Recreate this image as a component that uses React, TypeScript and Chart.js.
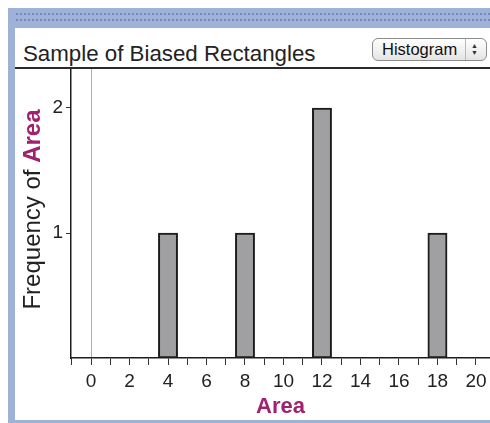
import React, { useEffect, useRef } from "react";
import { Chart, registerables } from "chart.js";

Chart.register(...registerables);

// ---- data ----
const areaValues = [4, 8, 12, 18];
const frequencies = [1, 1, 2, 1];
const yTickValues = [1, 2];
const xMin = -1.04;
const xMax = 20.73;
const yMax = 2.312;
const chartTitle = "Sample of Biased Rectangles";
const modeLabel = "Histogram";
const xTitle = "Area";
const yTitlePrefix = "Frequency of ";
const yTitleVar = "Area";

const FONT = '"Liberation Sans", Arial, sans-serif';
const MAGENTA = "#a0216e";
const TEXT = "#222222";

const yTitlePlugin = {
  id: "yTitleMixed",
  afterDraw(chart: any) {
    const { ctx, chartArea } = chart;
    ctx.save();
    const cx = 18;
    const cy = (chartArea.top + chartArea.bottom) / 2 - 4;
    ctx.translate(cx, cy);
    ctx.rotate(-Math.PI / 2);
    ctx.textBaseline = "middle";
    ctx.textAlign = "left";
    const f1 = `24px ${FONT}`;
    const f2 = `bold 24px ${FONT}`;
    ctx.font = f1;
    const w1 = ctx.measureText(yTitlePrefix).width;
    ctx.font = f2;
    const w2 = ctx.measureText(yTitleVar).width;
    let x = -(w1 + w2) / 2;
    ctx.font = f1;
    ctx.fillStyle = TEXT;
    ctx.fillText(yTitlePrefix, x, 0);
    x += w1;
    ctx.font = f2;
    ctx.fillStyle = MAGENTA;
    ctx.fillText(yTitleVar, x, 0);
    ctx.restore();
  },
};

export default function App() {
  const canvasRef = useRef<HTMLCanvasElement | null>(null);

  useEffect(() => {
    if (!canvasRef.current) return;
    const chart = new Chart(canvasRef.current, {
      type: "bar",
      data: {
        datasets: [
          {
            data: areaValues.map((a, i) => ({ x: a, y: frequencies[i] })),
            backgroundColor: "#a0a0a2",
            borderColor: "#1c1c1c",
            borderWidth: 2,
            borderSkipped: false,
            barPercentage: 1,
            categoryPercentage: 1,
          },
        ],
      },
      options: {
        animation: false,
        responsive: true,
        maintainAspectRatio: false,
        layout: { padding: 0 },
        plugins: {
          legend: { display: false },
          tooltip: { enabled: false },
          title: { display: false },
        },
        scales: {
          x: {
            type: "linear",
            min: xMin,
            max: xMax,
            offset: false,
            grid: {
              offset: false,
              drawOnChartArea: true,
              color: (c: any) =>
                c.tick && c.tick.value === 0 ? "#b0b0b0" : "rgba(0,0,0,0)",
              tickColor: "#333333",
              tickLength: 7,
              lineWidth: 1,
            },
            border: { display: true, color: "#1c1c1c", width: 1.5 },
            ticks: {
              stepSize: 1,
              includeBounds: false,
              autoSkip: false,
              maxRotation: 0,
              minRotation: 0,
              padding: 5,
              color: TEXT,
              font: { family: FONT, size: 19 },
              callback: (v: any) => (Number(v) >= 0 && Number(v) % 2 === 0 ? String(v) : ""),
            },
            title: {
              display: true,
              text: xTitle,
              color: MAGENTA,
              font: { family: FONT, size: 22, weight: "bold" },
              padding: { top: 0, bottom: 0 },
            },
            afterFit: (scale: any) => {
              scale.height = 62;
              scale.paddingLeft = 0;
              scale.paddingRight = 0;
            },
          },
          y: {
            type: "linear",
            min: 0,
            max: yMax,
            grid: {
              drawOnChartArea: false,
              color: "rgba(0,0,0,0)",
              tickColor: "#333333",
              tickLength: 5,
            },
            border: { display: true, color: "#1c1c1c", width: 1.5 },
            afterBuildTicks: (scale: any) => {
              scale.ticks = yTickValues.map((v) => ({ value: v }));
            },
            ticks: {
              padding: 3,
              color: TEXT,
              font: { family: FONT, size: 19 },
              callback: (v: any) => String(v),
            },
            afterFit: (scale: any) => {
              scale.width = 56;
              scale.paddingTop = 0;
              scale.paddingBottom = 0;
            },
          },
        },
      },
      plugins: [yTitlePlugin],
    } as any);
    return () => chart.destroy();
  }, []);

  return (
    <div
      style={{
        position: "fixed",
        left: 0,
        top: 0,
        width: 490,
        height: 423,
        overflow: "hidden",
        background: "#ffffff",
        fontFamily: FONT,
      }}
    >
      <div style={{ position: "absolute", left: 8, top: 8, width: 482, height: 415, background: "#9eb1d7" }} />
      <div
        style={{
          position: "absolute",
          left: 15,
          top: 11,
          width: 475,
          height: 12,
          backgroundImage: "radial-gradient(circle, #7489bd 0.9px, rgba(0,0,0,0) 1.4px)",
          backgroundSize: "4px 6px",
        }}
      />
      <div style={{ position: "absolute", left: 15, top: 28, width: 475, height: 392, background: "#ffffff" }} />
      <div
        style={{
          position: "absolute",
          left: 23,
          top: 43,
          fontSize: 22.3,
          lineHeight: "22px",
          color: TEXT,
          whiteSpace: "nowrap",
        }}
      >
        {chartTitle}
      </div>
      <div
        style={{
          position: "absolute",
          left: 372,
          top: 38,
          width: 115,
          height: 23,
          boxSizing: "border-box",
          border: "1px solid #8c8c8c",
          borderRadius: 6,
          background: "linear-gradient(#ffffff, #e4e4e4)",
        }}
      >
        <span
          style={{
            position: "absolute",
            left: 9,
            top: 2,
            fontSize: 16.5,
            lineHeight: "17px",
            color: "#111",
            whiteSpace: "nowrap",
          }}
        >
          {modeLabel}
        </span>
        <div style={{ position: "absolute", left: 92, top: 0, width: 1, height: 21, background: "#b8b8b8" }} />
        <div
          style={{
            position: "absolute",
            left: 98,
            top: 3,
            fontSize: 7,
            lineHeight: "7px",
            color: "#333",
            textAlign: "center",
          }}
        >
          ▲<br />▼
        </div>
      </div>
      <div style={{ position: "absolute", left: 15, top: 67, width: 475, height: 2, background: "#2a2a2a" }} />
      <div style={{ position: "absolute", left: 15, top: 69, width: 475, height: 351 }}>
        <canvas ref={canvasRef} />
      </div>
    </div>
  );
}
